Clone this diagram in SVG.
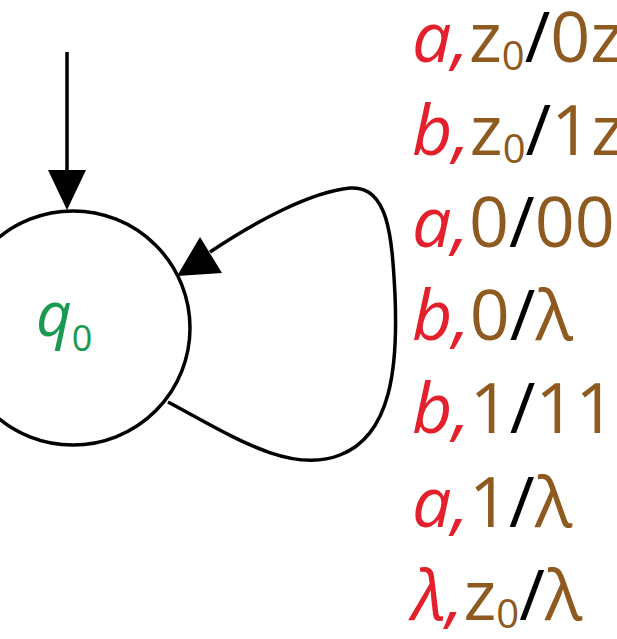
<svg xmlns="http://www.w3.org/2000/svg" width="617" height="639" viewBox="0 0 617 639">
<style>
.ln{font-family:"Open Sans","Noto Sans",sans-serif;font-size:70px}
.r{fill:#e3202b;font-style:italic}
.br{fill:#8e5a20}
.k{fill:#000}
.sb{font-size:40px}
.st{fill:none;stroke:#000;stroke-width:3.5}
</style>
<rect width="617" height="639" fill="#fff"/>
<g id="connectors">
<g id="start-arrow">
<line x1="67" y1="52" x2="67" y2="178" class="st"/>
<polygon points="48,170 86,170 67,210" fill="#000"/>
</g>
<g id="loop">
<path class="st" d="M168,402 C230,435 290,475 340,455 C392,435 398,365 395,295 C392,235 388,185 350,188 C310,192 255,222 210,252"/>
<polygon points="177,276 200,237 222,273" fill="#000"/>
</g>
</g>
<g id="q0">
<circle cx="73" cy="328" r="117" fill="#fff" stroke="#000" stroke-width="3.5"/>
<text x="36" y="336" font-family="'Open Sans','Noto Sans',sans-serif" font-size="62" font-style="italic" fill="#1a9a50">q<tspan font-style="normal" font-size="36" dy="15">0</tspan></text>
</g>
<g id="labels" class="ln">
<text x="412" y="62"><tspan class="r">a,</tspan><tspan class="br">z</tspan><tspan class="br sb" dy="8">0</tspan><tspan class="k" dy="-8">/</tspan><tspan class="br">0z</tspan></text>
<text x="412" y="155"><tspan class="r">b,</tspan><tspan class="br">z</tspan><tspan class="br sb" dy="8">0</tspan><tspan class="k" dy="-8">/</tspan><tspan class="br">1z</tspan></text>
<text x="412" y="247"><tspan class="r">a,</tspan><tspan class="br">0</tspan><tspan class="k">/</tspan><tspan class="br">00</tspan></text>
<text x="412" y="340"><tspan class="r">b,</tspan><tspan class="br">0</tspan><tspan class="k">/</tspan><tspan class="br">λ</tspan></text>
<text x="412" y="433"><tspan class="r">b,</tspan><tspan class="br">1</tspan><tspan class="k">/</tspan><tspan class="br">11</tspan></text>
<text x="412" y="527"><tspan class="r">a,</tspan><tspan class="br">1</tspan><tspan class="k">/</tspan><tspan class="br">λ</tspan></text>
<text x="412" y="620"><tspan class="r" font-style="normal">λ,</tspan><tspan class="br">z</tspan><tspan class="br sb" dy="8">0</tspan><tspan class="k" dy="-8">/</tspan><tspan class="br">λ</tspan></text>
</g>
</svg>
